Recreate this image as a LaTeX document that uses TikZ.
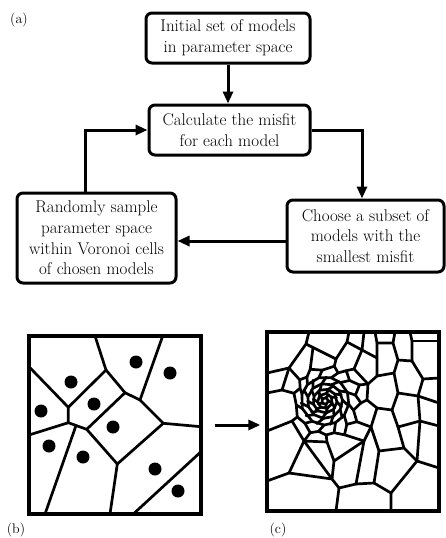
\documentclass[tikz,border=0pt]{standalone}
\usepackage{tikz}
\usetikzlibrary{positioning,arrows.meta,calc}

\begin{document}
\begin{tikzpicture}[
  x=1pt, y=-1pt,
  box/.style={draw,line width=3pt,rounded corners=6pt,align=center,inner sep=0pt,
              font=\fontsize{17}{20.7}\selectfont},
  flow/.style={-{Triangle[length=12pt,width=10pt]},line width=3pt},
  panel/.style={draw,line width=3.3pt,inner sep=0pt},
  vor/.style={line width=2.7pt,line join=round,line cap=round},
  site/.style={circle,fill,inner sep=0pt,minimum size=13pt},
  tag/.style={font=\fontsize{14}{16}\selectfont}
]
  \useasboundingbox (0,0) rectangle (445,538);

  % ---------- (a) flow chart ----------
  \node[tag] (taga) at (19,20) {(a)};
  \node[box,minimum width=164pt,minimum height=50pt] (init) at (228,38)
    {Initial set of models\\in parameter space};
  \node[box,minimum width=161pt,minimum height=50pt] (misfit) at (229.5,130)
    {Calculate the misfit\\for each model};
  \node[box,minimum width=159pt,minimum height=90pt] (resample) at (96.5,238)
    {Randomly sample\\parameter space\\within Voronoi cells\\of chosen models};
  \node[box,minimum width=157pt,minimum height=72pt] (choose) at (365.5,236)
    {Choose a subset of\\models with the\\smallest misfit};

  \draw[flow] (init.south) -- (init.south |- misfit.north);
  \draw[flow] (misfit.east) -| ([xshift=-3.5pt]choose.north);
  \draw[flow] ([yshift=-5pt]choose.west) -- ([yshift=-5pt]choose.west -| resample.east);
  \draw[flow] ([xshift=-11.5pt]resample.north) |- (misfit.west);

  % ---------- (b) first Voronoi cells ----------
  \draw[vor] (95,336) -- (106,370) -- (68.3,407.3) -- (29,366.7);
  \draw[vor] (106,370) -- (125,392.7) -- (140,400) -- (162.7,336);
  \draw[vor] (140,400) -- (163.3,423.3) -- (201,426.7);
  \draw[vor] (68.3,407.3) -- (68.3,422.7) -- (29,435);
  \draw[vor] (68.3,422.7) -- (86.7,429.3) -- (125,392.7);
  \draw[vor] (86.7,429.3) -- (117.3,464) -- (163.3,423.3);
  \draw[vor] (117.3,464) -- (110,514);
  \draw[vor] (76,425.6) -- (45,514);
  \draw[vor] (201,451.7) -- (133.3,514);
  \foreach \x/\y [count=\i] in {71/382,136/362,170/373,94/404,41/411,
                                113/427,49/446,83/457,155/469,178/491}
    \node[site] (site\i) at (\x,\y) {};
  \node[panel,minimum width=172pt,minimum height=178pt] (panelb) at (115,425) {};
  \node[tag] (tagb) at (16,530) {(b)};

  % ---------- (c) refined Voronoi cells ----------
  \coordinate (C) at (325,401);
  \begin{scope}[shift={(C)}]
    % inner rings of the web
    \foreach \rad/\smp/\o in {3.5/6/0, 7.5/8/20, 12/10/5, 17.5/12/30}
      \draw[vor] plot[domain=0:360,samples=\smp] ({\x+\o}:\rad) -- cycle;
    \foreach \ri/\ro/\n/\o in {3.5/7.5/5/0, 7.5/12/7/20, 12/17.5/9/5, 17.5/24/11/30}
      \foreach \j in {1,...,\n}
        \draw[vor] ({\o+\j*360/\n}:\ri) -- ({\o+\j*360/\n+14}:\ro);
    % outer two rings, irregular
    \draw[vor] (8:24) foreach \a in {37,64,92,122,162,197,223,255,285,310,339} { -- (\a:24) } -- cycle;
    \foreach \a/\rr in {18/30,47/32,74/33,102/31,132/30,172/29,
                        207/28,233/30,265/31,295/31,320/32,349/31}
      \draw[vor] ({\a-10}:24) -- (\a:\rr);
    \draw[vor] (3:36) foreach \a/\rr in {18/30,33/38,47/32,60/39,74/33,88/34,102/31,
        115/35,132/30,150/32,172/29,194/32,207/28,220/33,233/30,245/35,265/31,
        285/36,295/31,305/37,320/32,335/38,349/31} { -- (\a:\rr) } -- cycle;
    \foreach \a/\rr/\nm in {194/32/h1,220/33/h2,245/35/h3,285/36/h4,305/37/h5,335/38/h6,
                            3/36/h7,33/38/h8,60/39/h9,88/34/h10,115/35/h11,150/32/h12}
      \coordinate (\nm) at (\a:\rr);
  \end{scope}

  % outer cells
  \draw[vor] (309,332) -- (306,344) -- (289,368) -- (267,373);
  \draw[vor] (289,368) -- (282,390) -- (267,393);
  \draw[vor] (282,390) -- (h1);
  \draw[vor] (289,368) -- (h2);
  \draw[vor] (306,344) -- (313,347.5) -- (336,359) -- (347,342) -- (349,332);
  \draw[vor] (313,347.5) -- (h3);
  \draw[vor] (336,359) -- (h4);
  \draw[vor] (347,342) -- (362,350) -- (364,332);
  \draw[vor] (362,350) -- (354,369) -- (h5);
  \draw[vor] (354,369) -- (368,384) -- (h6);
  \draw[vor] (362,350) -- (377,358) -- (377,343) -- (375,332);
  \draw[vor] (377,343) -- (393,343) -- (395,332);
  \draw[vor] (393,343) -- (398,360) -- (394,373) -- (377,376) -- (377,358);
  \draw[vor] (377,376) -- (368,384) -- (367,400) -- (h7);
  \draw[vor] (398,360) -- (412,361) -- (412,341) -- (410,332);
  \draw[vor] (412,341) -- (439,341);
  \draw[vor] (412,361) -- (423,379) -- (439,378);
  \draw[vor] (423,379) -- (418,396) -- (439,403);
  \draw[vor] (418,396) -- (398,393) -- (394,373);
  \draw[vor] (398,393) -- (392,410) -- (377,408) -- (367,400);
  \draw[vor] (377,408) -- (371,427) -- (h8);
  \draw[vor] (392,410) -- (398,427) -- (404,448);
  \draw[vor] (418,396) -- (420,421) -- (439,426);
  \draw[vor] (420,421) -- (398,427);
  \draw[vor] (420,421) -- (417,461) -- (439,468);
  \draw[vor] (417,461) -- (404,448) -- (379,451) -- (371,427);
  \draw[vor] (371,427) -- (364,441) -- (h9);
  \draw[vor] (379,451) -- (374,483) -- (391,493) -- (391,511);
  \draw[vor] (391,493) -- (417,461);
  \draw[vor] (374,483) -- (356,484) -- (364,441) -- (334,461) -- (327,442) -- (h10);
  \draw[vor] (356,484) -- (339,488) -- (336,511);
  \draw[vor] (339,488) -- (332,479) -- (334,461);
  \draw[vor] (332,479) -- (304,441) -- (327,442);
  \draw[vor] (304,441) -- (h11);
  \draw[vor] (304,441) -- (292,421) -- (267,431);
  \draw[vor] (292,421) -- (h12);
  \draw[vor] (304,441) -- (289,473) -- (267,481);
  \draw[vor] (289,473) -- (332,479);
  \node[panel,minimum width=172pt,minimum height=179pt] (panelc) at (353,421.5) {};
  \node[tag] (tagc) at (278,530) {(c)};

  \draw[flow] ([xshift=12pt]panelb.east) -- ([xshift=-5pt]panelb.east -| panelc.west);
\end{tikzpicture}
\end{document}
